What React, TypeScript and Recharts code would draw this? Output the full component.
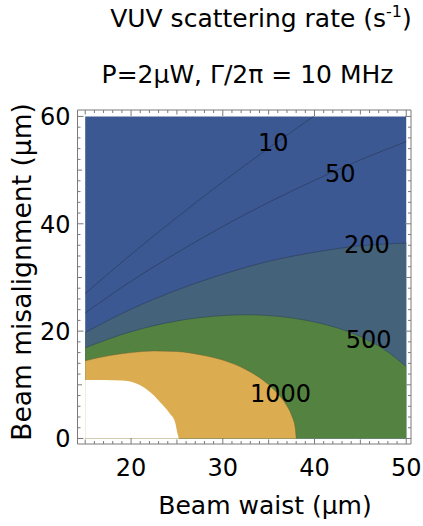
import React from 'react';
import { ComposedChart, XAxis, YAxis, Area, Line, ReferenceDot } from 'recharts';

// ---- data (beam waist w in µm, beam misalignment d in µm) ----
const plotBox = [
  { w: 15, d: 60 },
  { w: 50, d: 60 },
];
const contour10 = [
  { w: 15, d: 27.0 },
  { w: 20, d: 34.3 },
  { w: 25, d: 41.2 },
  { w: 30, d: 47.8 },
  { w: 35, d: 54.1 },
  { w: 39.9, d: 60 },
];
const contour50 = [
  { w: 15, d: 23.4 },
  { w: 20, d: 29.3 },
  { w: 25, d: 34.6 },
  { w: 30, d: 39.5 },
  { w: 35, d: 44.0 },
  { w: 40, d: 48.1 },
  { w: 45, d: 51.9 },
  { w: 50, d: 55.3 },
];
const contour200 = [
  { w: 15, d: 19.75 },
  { w: 20, d: 24.1 },
  { w: 25, d: 27.65 },
  { w: 30, d: 30.6 },
  { w: 35, d: 33.0 },
  { w: 40, d: 34.7 },
  { w: 45, d: 35.9 },
  { w: 50, d: 36.4 },
];
const contour500 = [
  { w: 15, d: 16.9 },
  { w: 20, d: 19.9 },
  { w: 25, d: 21.9 },
  { w: 30, d: 22.9 },
  { w: 32.5, d: 23.05 },
  { w: 35, d: 22.9 },
  { w: 40, d: 21.7 },
  { w: 42.5, d: 20.6 },
  { w: 45, d: 19.0 },
  { w: 47.5, d: 16.7 },
  { w: 50, d: 13.4 },
];
const contour1000 = [
  { w: 15, d: 14.46 },
  { w: 17.5, d: 15.4 },
  { w: 20, d: 16.0 },
  { w: 22.5, d: 16.3 },
  { w: 25, d: 16.2 },
  { w: 27.5, d: 15.6 },
  { w: 30, d: 14.6 },
  { w: 32.5, d: 12.85 },
  { w: 35, d: 10.0 },
  { w: 36.5, d: 7.3 },
  { w: 37, d: 6.05 },
  { w: 37.5, d: 4.3 },
  { w: 37.9, d: 1.95 },
  { w: 38, d: 0 },
];
const outOfRange = [
  { w: 15, d: 10.9 },
  { w: 17, d: 10.9 },
  { w: 19, d: 10.8 },
  { w: 20.5, d: 10.3 },
  { w: 21.5, d: 9.4 },
  { w: 22.5, d: 8.0 },
  { w: 23.3, d: 6.5 },
  { w: 24.2, d: 4.7 },
  { w: 24.8, d: 3.0 },
  { w: 25.05, d: 1.0 },
  { w: 25.2, d: 0 },
];
const contourLabels = [
  { text: '10', w: 35.5, d: 55.1 },
  { text: '50', w: 42.8, d: 49.4 },
  { text: '200', w: 45.7, d: 36.2 },
  { text: '500', w: 45.9, d: 18.4 },
  { text: '1000', w: 36.3, d: 8.4 },
];
const xTicks = [15, 16, 17, 18, 19, 20, 21, 22, 23, 24, 25, 26, 27, 28, 29, 30, 31, 32, 33, 34, 35, 36, 37, 38, 39, 40, 41, 42, 43, 44, 45, 46, 47, 48, 49, 50];
const xTickLabels = [20, 30, 40, 50];
const yTicks = [0, 2, 4, 6, 8, 10, 12, 14, 16, 18, 20, 22, 24, 26, 28, 30, 32, 34, 36, 38, 40, 42, 44, 46, 48, 50, 52, 54, 56, 58, 60];
const yTickLabels = [0, 20, 40, 60];

// ---- styles ----
const FONT = '"DejaVu Sans", Verdana, sans-serif';
const FRAME = '#7a7a7a';
const BLUE = '#3c5893';
const TEAL = '#44637a';
const GREEN = '#548240';
const YELLOW = '#dcad50';
const LINE = '#2c3b5c';

const tickLen = (v: number, labels: number[]) => (labels.includes(v) ? 6 : v % 10 === 0 || v % 5 === 0 ? 4.5 : 3);

const BottomTick = (p: any) => {
  const v = p.payload.value;
  const len = v % 5 === 0 ? (xTickLabels.includes(v) ? 6 : 4.5) : 3;
  return (
    <g>
      <line x1={p.x} x2={p.x} y1={p.y} y2={p.y - len} stroke={FRAME} />
      {xTickLabels.includes(v) && (
        <text x={p.x} y={p.y + 32} textAnchor="middle" fontSize={24} fontFamily={FONT} fill="#000">
          {v}
        </text>
      )}
    </g>
  );
};
const TopTick = (p: any) => {
  const v = p.payload.value;
  const len = v % 5 === 0 ? (xTickLabels.includes(v) ? 6 : 4.5) : 3;
  return <line x1={p.x} x2={p.x} y1={p.y} y2={p.y + len} stroke={FRAME} />;
};
const LeftTick = (p: any) => {
  const v = p.payload.value;
  const len = tickLen(v, yTickLabels);
  return (
    <g>
      <line x1={p.x} x2={p.x + len} y1={p.y} y2={p.y} stroke={FRAME} />
      {yTickLabels.includes(v) && (
        <text x={p.x - 7} y={p.y + 9} textAnchor="end" fontSize={24} fontFamily={FONT} fill="#000">
          {v}
        </text>
      )}
    </g>
  );
};
const RightTick = (p: any) => {
  const v = p.payload.value;
  const len = tickLen(v, yTickLabels);
  return <line x1={p.x} x2={p.x - len} y1={p.y} y2={p.y} stroke={FRAME} />;
};

export default function App() {
  return (
    <div style={{ width: 423, height: 526, background: '#fff' }}>
      <style>{'body{margin:0}'}</style>
      <ComposedChart width={423} height={526} margin={{ top: 109, right: 11, bottom: 22, left: 17.5 }}>
        <XAxis xAxisId="b" dataKey="w" type="number" domain={[14.16, 50.52]} allowDataOverflow ticks={xTicks} interval={0}
          tickSize={0} tickMargin={0} tickLine={false} axisLine={{ stroke: FRAME }} tick={<BottomTick />} height={60} />
        <XAxis xAxisId="t" orientation="top" dataKey="w" type="number" domain={[14.16, 50.52]} allowDataOverflow ticks={xTicks} interval={0}
          tickSize={0} tickMargin={0} tickLine={false} axisLine={{ stroke: FRAME }} tick={<TopTick />} height={1} />
        <YAxis yAxisId="l" dataKey="d" type="number" domain={[-1.03, 61.2]} allowDataOverflow ticks={yTicks} interval={0}
          tickSize={0} tickMargin={0} tickLine={false} axisLine={{ stroke: FRAME }} tick={<LeftTick />} width={60} />
        <YAxis yAxisId="r" orientation="right" dataKey="d" type="number" domain={[-1.03, 61.2]} allowDataOverflow ticks={yTicks} interval={0}
          tickSize={0} tickMargin={0} tickLine={false} axisLine={{ stroke: FRAME }} tick={<RightTick />} width={1} />

        <Area xAxisId="b" yAxisId="l" data={plotBox} dataKey="d" type="linear" baseValue={0} fill={BLUE} fillOpacity={1} stroke="none" isAnimationActive={false} />
        <Area xAxisId="b" yAxisId="l" data={contour200} dataKey="d" type="monotone" baseValue={0} fill={TEAL} fillOpacity={1} stroke={LINE} strokeOpacity={0.6} strokeWidth={1} isAnimationActive={false} />
        <Area xAxisId="b" yAxisId="l" data={contour500} dataKey="d" type="monotone" baseValue={0} fill={GREEN} fillOpacity={1} stroke={LINE} strokeOpacity={0.5} strokeWidth={1} isAnimationActive={false} />
        <Area xAxisId="b" yAxisId="l" data={contour1000} dataKey="d" type="monotone" baseValue={0} fill={YELLOW} fillOpacity={1} stroke="#6a5a30" strokeOpacity={0.4} strokeWidth={1} isAnimationActive={false} />
        <Area xAxisId="b" yAxisId="l" data={outOfRange} dataKey="d" type="monotone" baseValue={0} fill="#ffffff" fillOpacity={1} stroke="none" isAnimationActive={false} />
        <Line xAxisId="b" yAxisId="l" data={contour10} dataKey="d" type="monotone" stroke={LINE} strokeOpacity={0.7} strokeWidth={1} dot={false} activeDot={false} isAnimationActive={false} />
        <Line xAxisId="b" yAxisId="l" data={contour50} dataKey="d" type="monotone" stroke={LINE} strokeOpacity={0.7} strokeWidth={1} dot={false} activeDot={false} isAnimationActive={false} />

        {contourLabels.map((c) => (
          <ReferenceDot key={c.text} xAxisId="b" yAxisId="l" x={c.w} y={c.d} r={0} fill="none" stroke="none"
            label={{ value: c.text, position: 'center', fontSize: 24, fill: '#000', fontFamily: FONT }} />
        ))}

        <text x={261} y={27} textAnchor="middle" fontSize={25} fontFamily={FONT} fill="#000">
          VUV scattering rate (s<tspan dy={-10} fontSize={16}>-1</tspan><tspan dy={10}>)</tspan>
        </text>
        <text x={247.5} y={83} textAnchor="middle" fontSize={25} fontFamily={FONT} fill="#000">
          P=2μW, Γ/2π = 10 MHz
        </text>
        <text x={265} y={514} textAnchor="middle" fontSize={25} fontFamily={FONT} fill="#000">
          Beam waist (μm)
        </text>
        <text x={31} y={272} textAnchor="middle" fontSize={26.5} fontFamily={FONT} fill="#000" transform="rotate(-90, 31, 272)">
          Beam misalignment (μm)
        </text>
      </ComposedChart>
    </div>
  );
}
